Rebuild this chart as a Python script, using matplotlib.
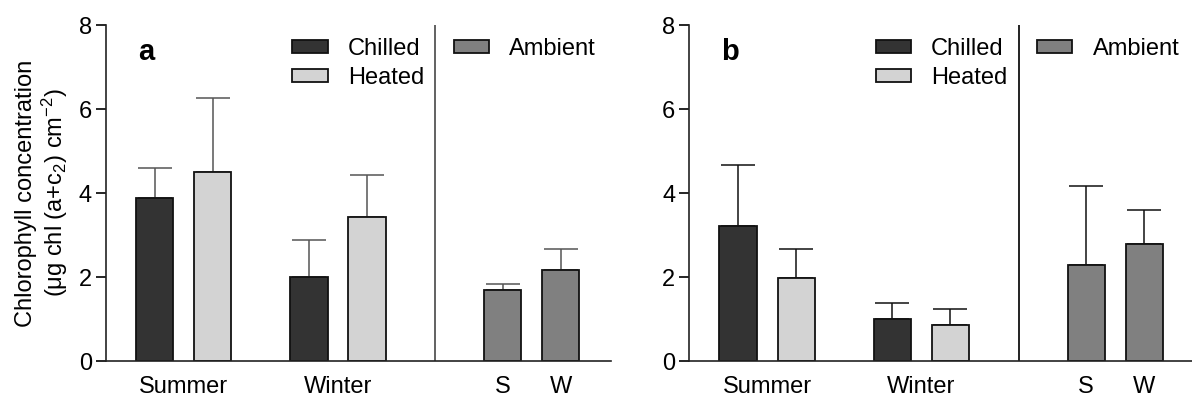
import numpy as np
import matplotlib
matplotlib.use("Agg")
import matplotlib.pyplot as plt
from matplotlib.patches import Patch

plt.rcParams['font.family'] = ['Liberation Sans', 'DejaVu Sans']
plt.rcParams['mathtext.fontset'] = 'custom'
plt.rcParams['mathtext.rm'] = 'Liberation Sans'
plt.rcParams['mathtext.default'] = 'regular'

# data (mean, upper error)
seasons = ["Summer", "Winter"]
amb_labels = ["S", "W"]

a_chilled = [3.87, 2.01]
a_chilled_err = [0.73, 0.87]
a_heated = [4.51, 3.44]
a_heated_err = [1.75, 0.99]
a_ambient = [1.69, 2.17]
a_ambient_err = [0.14, 0.49]

b_chilled = [3.21, 1.01]
b_chilled_err = [1.45, 0.36]
b_heated = [1.98, 0.86]
b_heated_err = [0.68, 0.37]
b_ambient = [2.28, 2.78]
b_ambient_err = [1.88, 0.81]

c_chill = "#333333"
c_heat = "#d3d3d3"
c_amb = "#808080"

fig = plt.figure(figsize=(11.92, 4), dpi=100)
ax_a = fig.add_axes([0.0889, 0.0975, 0.4234, 0.84])
ax_b = fig.add_axes([0.5783, 0.0975, 0.4234, 0.84])

grp = np.array([0.0, 2.66])
amb_x = np.array([6.0, 7.0])
w = 0.64
fs = 17

def panel(ax, label, chilled, chilled_err, heated, heated_err, ambient, ambient_err, lc):
    zero = [0, 0]
    ek = dict(ecolor=lc, elinewidth=1.1, capsize=12, capthick=1.1, fmt="none", zorder=1)
    ax.errorbar(grp, chilled, yerr=[zero, chilled_err], **ek)
    ax.errorbar(grp + 1, heated, yerr=[zero, heated_err], **ek)
    ax.errorbar(amb_x, ambient, yerr=[zero, ambient_err], **ek)
    bk = dict(width=w, edgecolor="#111111", linewidth=1.3, zorder=2)
    ax.bar(grp, chilled, color=c_chill, **bk)
    ax.bar(grp + 1, heated, color=c_heat, **bk)
    ax.bar(amb_x, ambient, color=c_amb, **bk)
    ax.axvline(4.84, ymin=0, ymax=1, color=lc, linewidth=1.3)

    ax.set_xlim(-0.84, 7.86)
    ax.set_ylim(0, 8)
    ax.set_yticks([0, 2, 4, 6, 8])
    ax.set_xticks(list(grp + 0.5) + list(amb_x))
    ax.set_xticklabels(seasons + amb_labels)
    ax.tick_params(axis='x', length=0, pad=11, labelsize=fs)
    ax.tick_params(axis='y', length=7, width=1.2, labelsize=fs, pad=3)
    for s in ["top", "right"]:
        ax.spines[s].set_visible(False)
    for s in ["left", "bottom"]:
        ax.spines[s].set_linewidth(1.2)
        ax.spines[s].set_color("#222222")

    ax.text(0.063, 0.896, label, transform=ax.transAxes, fontsize=21,
            fontweight="bold", va="baseline")

    h1 = [Patch(facecolor=c_chill, edgecolor="#111111", linewidth=1.3),
          Patch(facecolor=c_heat, edgecolor="#111111", linewidth=1.3)]
    leg1 = ax.legend(h1, ["Chilled", "Heated"], loc="upper left",
                     bbox_to_anchor=(0.369, 0.962), frameon=False, fontsize=fs,
                     handlelength=1.5, handleheight=0.47, handletextpad=0.85,
                     labelspacing=0.3, borderpad=0, borderaxespad=0)
    ax.add_artist(leg1)
    h2 = [Patch(facecolor=c_amb, edgecolor="#111111", linewidth=1.3)]
    ax.legend(h2, ["Ambient"], loc="upper left", bbox_to_anchor=(0.689, 0.962),
              frameon=False, fontsize=fs, handlelength=1.5, handleheight=0.47,
              handletextpad=0.85, borderpad=0, borderaxespad=0)

panel(ax_a, "a", a_chilled, a_chilled_err, a_heated, a_heated_err,
      a_ambient, a_ambient_err, "#555555")
panel(ax_b, "b", b_chilled, b_chilled_err, b_heated, b_heated_err,
      b_ambient, b_ambient_err, "#111111")

ax_a.set_ylabel("Chlorophyll concentration\n" + r"(μg chl (a+c$_2$) cm$^{-2}$)",
                fontsize=fs, linespacing=1.15, labelpad=6)

fig.savefig("out.png", dpi=100)
